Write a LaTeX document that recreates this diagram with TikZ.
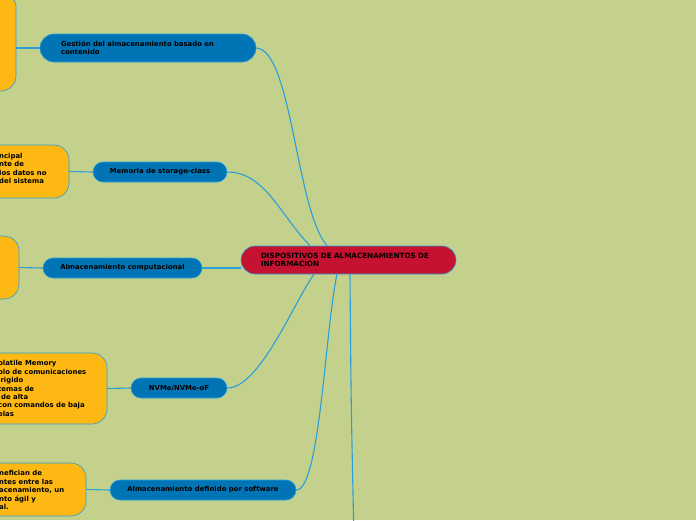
\documentclass[tikz,border=0pt]{standalone}
\usepackage{fontspec}
\setmainfont{DejaVu Sans}
\usetikzlibrary{positioning}
\definecolor{fondo}{HTML}{C3D18D}
\definecolor{rama}{HTML}{0074B4}
\definecolor{raizcol}{HTML}{C41230}
\definecolor{nota}{HTML}{FDB813}
\definecolor{enlace}{HTML}{2A9FDA}

\tikzset{
  letra/.style={font=\fontsize{6.9}{8.4}\selectfont\bfseries, text=black},
  tema/.style={letra, draw=enlace, line width=0.6pt, fill=rama, rounded corners=10pt,
    inner sep=0pt, minimum height=20pt},
  notabox/.style={draw=enlace, line width=0.6pt, fill=nota, rounded corners=15pt,
    inner sep=0pt, minimum width=200pt},
  notatxt/.style={letra, align=left, inner sep=0pt, anchor=north west},
  enlace line/.style={draw=enlace, line width=1.1pt},
}

\begin{document}
\begin{tikzpicture}[x=1pt, y=-1pt]
  \useasboundingbox (0,0) rectangle (696,520);
  \clip (0,0) rectangle (696,520);
  \fill[fondo] (0,0) rectangle (696,520);

  % Central node
  \node[tema, fill=raizcol, rounded corners=14pt, minimum width=215pt, minimum height=28pt,
    text width=175pt, align=left, font=\fontsize{7.2}{8.6}\selectfont\bfseries] (raiz) at (348.5,260)
    {DISPOSITIVOS DE ALMACENAMIENTOS DE\\INFORMACION};

  % Branches
  \node[tema, minimum width=216pt, minimum height=28pt, rounded corners=14pt,
    text width=174pt, align=left] (gestion) at (148,48)
    {Gestión del almacenamiento basado en\\contenido};
  \node[tema, minimum width=134pt] (memoria) at (160,172) {Memoria de storage-class};
  \node[tema, minimum width=159pt] (computo) at (122.5,268) {Almacenamiento computacional};
  \node[tema, minimum width=96pt] (nvme) at (179,388) {NVMe/NVMe-oF};
  \node[tema, minimum width=186pt] (software) at (203,490) {Almacenamiento definido por software};
  \coordinate (abajo) at (354,540);

  % Notes (cut at the left edge)
  \node[notabox, minimum height=99pt] (nota1) at (-84,41.5) {};
  \node[notabox, minimum height=53pt] (nota2) at (-31,171.5) {};
  \node[notabox, minimum height=63pt] (nota3) at (-81,267.5) {};
  \node[notabox, minimum height=71pt] (nota4) at (7,388.5) {};
  \node[notabox, minimum height=53pt] (nota5) at (-14,489.5) {};

  \node[notatxt] (texto2) at (-1,153)
    {ncipal\\nte de\\los datos no\\del sistema};
  \node[notatxt] (texto4) at (-2,360.5)
    {olatile Memory\\olo de comunicaciones\\irigido\\temas de\\\makebox[3pt]{}de alta\\con comandos de baja\\elas};
  \node[notatxt] (texto5) at (-1,470.5)
    {nefician de\\ntes entre las\\acenamiento, un\\nto ágil y\\al.};

  % Connectors
  \draw[enlace line] ([xshift=-21.5pt]raiz.north) .. controls (296,210) and (292,50) .. (gestion.east);
  \draw[enlace line] ([xshift=-38.5pt]raiz.north) .. controls (280,215) and (265,172) .. (memoria.east);
  \draw[enlace line] (raiz.west |- computo.east) -- (computo.east);
  \draw[enlace line] ([xshift=-34.5pt]raiz.south) .. controls (295,300) and (260,388) .. (nvme.east);
  \draw[enlace line] ([xshift=-11.5pt]raiz.south) .. controls (325,330) and (320,490) .. (software.east);
  \draw[enlace line] ([xshift=1.5pt]raiz.south) .. controls (351,400) .. (abajo);

  \draw[enlace line] (gestion.west) -- (nota1.east |- gestion.west);
  \draw[enlace line] (memoria.west) -- (nota2.east);
  \draw[enlace line] (computo.west) -- (nota3.east);
  \draw[enlace line] (nvme.west) -- (nota4.east);
  \draw[enlace line] (software.west) -- (nota5.east);
\end{tikzpicture}
\end{document}
